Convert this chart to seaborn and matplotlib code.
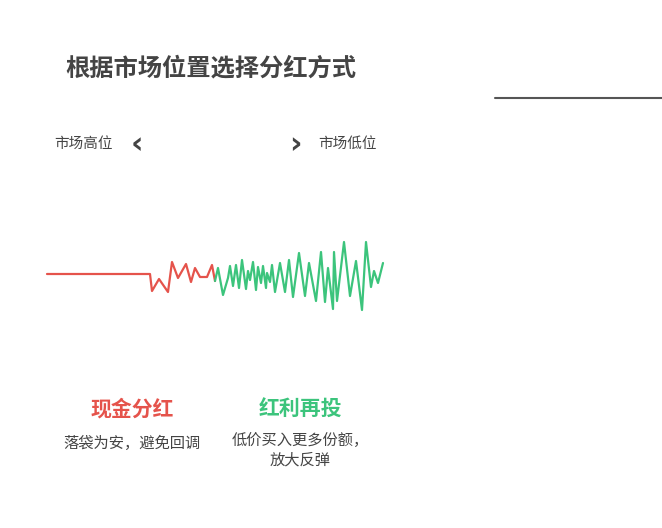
import matplotlib.pyplot as plt
import seaborn as sns
import pandas as pd

sns.set_theme(style="white")
plt.rcParams["font.family"] = ["Noto Sans CJK SC", "DejaVu Sans"]

# wave (x position, level; larger level = lower on screen)
red_x = [47, 150, 152, 159, 168, 172, 178, 186, 191, 195, 200, 207, 212, 215]
red_y = [274, 274, 291, 279, 292, 262, 278, 264, 282, 268, 277, 277, 265, 281]
green_x = [215, 218, 223, 228, 230, 233, 236, 239, 242, 246, 248, 250, 253, 256, 258,
           261, 263, 266, 267, 270, 272, 275, 280, 285, 289, 293, 299, 305, 309, 316,
           321, 325, 328, 333, 334, 337, 344, 350, 356, 362, 366, 371, 374, 378, 383]
green_y = [281, 268, 295, 278, 266, 286, 265, 288, 260, 289, 271, 280, 262, 290, 267,
           283, 266, 288, 273, 282, 265, 292, 263, 292, 260, 297, 253, 296, 263, 301,
           252, 302, 268, 309, 252, 301, 242, 296, 261, 310, 242, 287, 271, 283, 263]

RED = "#e5534b"
GREEN = "#3cc47c"
GREY = "#444444"

fig = plt.figure(figsize=(6.62, 5.28), dpi=100)
ax = fig.add_axes([0, 0, 1, 1])
ax.set_xlim(0, 662)
ax.set_ylim(528, 0)
ax.axis("off")

sns.lineplot(data=pd.DataFrame({"x": red_x, "y": red_y}), x="x", y="y", sort=False,
             color=RED, linewidth=1.6, ax=ax)
sns.lineplot(data=pd.DataFrame({"x": green_x, "y": green_y}), x="x", y="y", sort=False,
             color=GREEN, linewidth=1.6, ax=ax)

ax.text(65, 68, "根据市场位置选择分红方式", fontsize=17.5, fontweight="bold", color=GREY, va="center")
ax.plot([495, 662], [98, 98], color="#555555", linewidth=1.5)

ax.text(54, 144, "市场高位", fontsize=10.5, color=GREY, va="center")
ax.text(137, 145, "‹", fontsize=22, color=GREY, va="center", ha="center",
        family="DejaVu Sans", fontweight="bold")
ax.text(295, 145, "›", fontsize=22, color=GREY, va="center", ha="center",
        family="DejaVu Sans", fontweight="bold")
ax.text(318, 144, "市场低位", fontsize=10.5, color=GREY, va="center")

ax.text(132, 409, "现金分红", fontsize=15, fontweight="bold", color=RED, ha="center", va="center")
ax.text(132, 443, "落袋为安，避免回调", fontsize=11, color=GREY, ha="center", va="center")
ax.text(300, 409, "红利再投", fontsize=15, fontweight="bold", color=GREEN, ha="center", va="center")
ax.text(300, 440, "低价买入更多份额，", fontsize=11, color=GREY, ha="center", va="center")
ax.text(300, 460, "放大反弹", fontsize=11, color=GREY, ha="center", va="center")

fig.savefig("out.png", dpi=100)
